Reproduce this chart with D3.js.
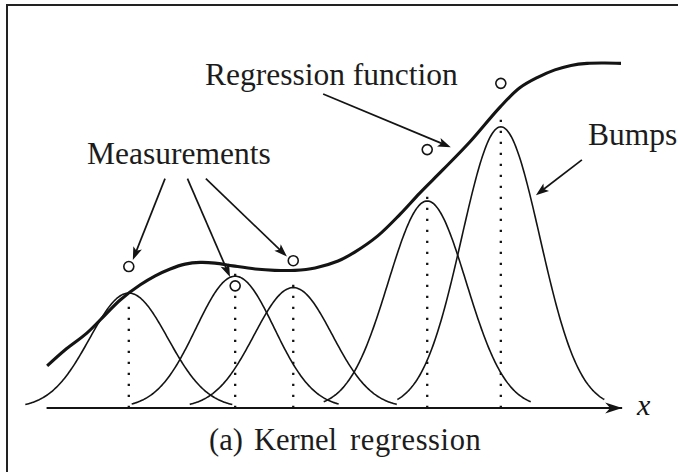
<!DOCTYPE html>
<html>
<head>
<meta charset="utf-8">
<script src="https://cdn.jsdelivr.net/npm/d3@7"></script>
<style>
  html, body { margin: 0; padding: 0; background: #fff; }
  svg { display: block; }
</style>
</head>
<body>
<script>
// Noisy measurements (x, y)
const measureX = [1.44, 3.29, 4.30, 6.63, 7.91];
const measureY = [4.10, 3.54, 4.27, 7.49, 9.41];

// Kernel bump placed at each measurement
const bumpHeight = [3.33, 3.82, 3.49, 6.00, 8.15];
const bandwidth = 0.68;   // Gaussian sigma
const bumpReach = 1.8;    // each bump is drawn over centre ± reach

// Smooth regression estimate, sampled
const fitX = [0.02, 0.33, 0.71, 1.03, 1.29, 1.64, 1.90, 2.16, 2.42, 2.68, 2.94, 3.25, 3.64,
              3.98, 4.33, 4.68, 5.08, 5.37, 5.77, 6.16, 6.50, 6.90, 7.37, 7.90, 8.24, 8.56,
              8.85, 9.13, 9.41, 9.72, 10.0];
const fitY = [1.22, 1.68, 2.17, 2.70, 3.13, 3.57, 3.83, 4.03, 4.17, 4.22, 4.20, 4.12, 4.03,
              3.99, 3.99, 4.06, 4.26, 4.52, 4.99, 5.62, 6.23, 6.90, 7.71, 8.73, 9.28, 9.59,
              9.80, 9.93, 9.99, 10.0, 9.99];

// Annotation labels and the points their arrows reach (data space)
const measLabel = "Measurements";
const measArrowFrom = [[2.07, 6.65], [2.46, 6.65], [2.78, 6.65]];
const measArrowTo   = [[1.51, 4.29], [3.20, 3.80], [4.19, 4.39]];
const fitLabel = "Regression function";
const fitArrow = [[4.82, 9.10], [7.04, 7.56]];
const bumpLabel = "Bumps";
const bumpArrow = [[9.32, 7.19], [8.52, 6.17]];
const captionWords = ["(a)", "Kernel", "regression"];
const axisLabel = "x";

const W = 678, H = 472;
const ink = "#141414";
const serif = "'Liberation Serif', 'Times New Roman', serif";

const x = d3.scaleLinear().domain([0, 10]).range([46, 621]);
const y = d3.scaleLinear().domain([0, 10]).range([408, 63]);

const svg = d3.select("body").append("svg")
  .attr("width", W).attr("height", H)
  .attr("viewBox", `0 0 ${W} ${H}`);

svg.append("rect").attr("width", W).attr("height", H).attr("fill", "#fff");

// frame (open on the right and bottom edges of the page)
svg.append("rect")
  .attr("x", 7).attr("y", 5).attr("width", 720).attr("height", 520)
  .attr("fill", "none").attr("stroke", "#222").attr("stroke-width", 2);

const defs = svg.append("defs");
defs.append("marker")
  .attr("id", "head").attr("markerUnits", "userSpaceOnUse")
  .attr("viewBox", "-14 -6 15 12").attr("refX", 0).attr("refY", 0)
  .attr("markerWidth", 15).attr("markerHeight", 12).attr("orient", "auto")
  .append("path").attr("d", "M0,0 L-13,-4.6 L-10,0 L-13,4.6 Z").attr("fill", ink);
defs.append("marker")
  .attr("id", "axishead").attr("markerUnits", "userSpaceOnUse")
  .attr("viewBox", "-18 -7 19 14").attr("refX", 0).attr("refY", 0)
  .attr("markerWidth", 19).attr("markerHeight", 14).attr("orient", "auto")
  .append("path").attr("d", "M0,0 L-17,-5.5 L-12,0 L-17,5.5 Z").attr("fill", ink);

// x axis with arrow
svg.append("line")
  .attr("x1", x(0.01)).attr("x2", x(10.02)).attr("y1", y(0)).attr("y2", y(0))
  .attr("stroke", ink).attr("stroke-width", 2.2)
  .attr("marker-end", "url(#axishead)");
svg.append("text")
  .attr("x", x(10.28)).attr("y", y(0) + 6.5)
  .attr("font-family", serif).attr("font-style", "italic").attr("font-size", 30)
  .attr("fill", ink).text(axisLabel);

// Gaussian bumps
const gauss = (c, h) => t => h * Math.exp(-((t - c) ** 2) / (2 * bandwidth * bandwidth));
const bumpLine = d3.line().x(d => x(d[0])).y(d => y(d[1]));
measureX.forEach((c, i) => {
  const f = gauss(c, bumpHeight[i]);
  const pts = d3.range(c - bumpReach, c + bumpReach + 1e-9, 0.02).map(t => [t, f(t)]);
  svg.append("path").attr("d", bumpLine(pts))
    .attr("fill", "none").attr("stroke", ink).attr("stroke-width", 1.6);
});

// dotted drop lines from the fitted value to the axis
const fitAt = t => {
  const j = Math.max(1, d3.bisectLeft(fitX, t));
  const a = (t - fitX[j - 1]) / (fitX[j] - fitX[j - 1]);
  return fitY[j - 1] + a * (fitY[j] - fitY[j - 1]);
};
measureX.forEach(c => {
  svg.append("line")
    .attr("x1", x(c)).attr("x2", x(c))
    .attr("y1", y(0)).attr("y2", y(fitAt(c)) + 6)
    .attr("stroke", ink).attr("stroke-width", 2.3)
    .attr("stroke-dasharray", "2.2 8.8");
});

// regression function
svg.append("path")
  .attr("d", d3.line().curve(d3.curveCatmullRom.alpha(0.5))
    .x((d, i) => x(fitX[i])).y((d, i) => y(fitY[i]))(fitX))
  .attr("fill", "none").attr("stroke", ink).attr("stroke-width", 3.1)
  .attr("stroke-linecap", "butt");

// measurements
svg.selectAll("circle.meas").data(measureX).join("circle")
  .attr("class", "meas")
  .attr("cx", d => x(d)).attr("cy", (d, i) => y(measureY[i]))
  .attr("r", 5).attr("fill", "#fff").attr("stroke", ink).attr("stroke-width", 1.6);

// annotation arrows
function arrow(from, to) {
  const x1 = x(from[0]), y1 = y(from[1]), x2 = x(to[0]), y2 = y(to[1]);
  const len = Math.hypot(x2 - x1, y2 - y1);
  const ux = (x2 - x1) / len, uy = (y2 - y1) / len;
  svg.append("line")
    .attr("x1", x1).attr("y1", y1).attr("x2", x2 - ux * 6).attr("y2", y2 - uy * 6)
    .attr("stroke", ink).attr("stroke-width", 1.7);
  svg.append("line")
    .attr("x1", x2 - ux * 6).attr("y1", y2 - uy * 6).attr("x2", x2).attr("y2", y2)
    .attr("stroke", "none").attr("marker-end", "url(#head)");
}
measArrowFrom.forEach((f, i) => arrow(f, measArrowTo[i]));
arrow(fitArrow[0], fitArrow[1]);
arrow(bumpArrow[0], bumpArrow[1]);

// labels
const label = (t, px, py, fs) => svg.append("text")
  .attr("x", px).attr("y", py)
  .attr("font-family", serif).attr("font-size", fs).attr("fill", "#1c1c1c").text(t);
label(measLabel, 87, 164, 31.5);
label(fitLabel, 205, 85, 31.5);
label(bumpLabel, 588, 145, 31.5);

// caption, set with wide word gaps
const capX = [209, 254, 350];
captionWords.forEach((w, i) => {
  const t = label(w, capX[i], 450, 30.5);
  if (i === 2) t.attr("letter-spacing", 0.6);
});
</script>
</body>
</html>
